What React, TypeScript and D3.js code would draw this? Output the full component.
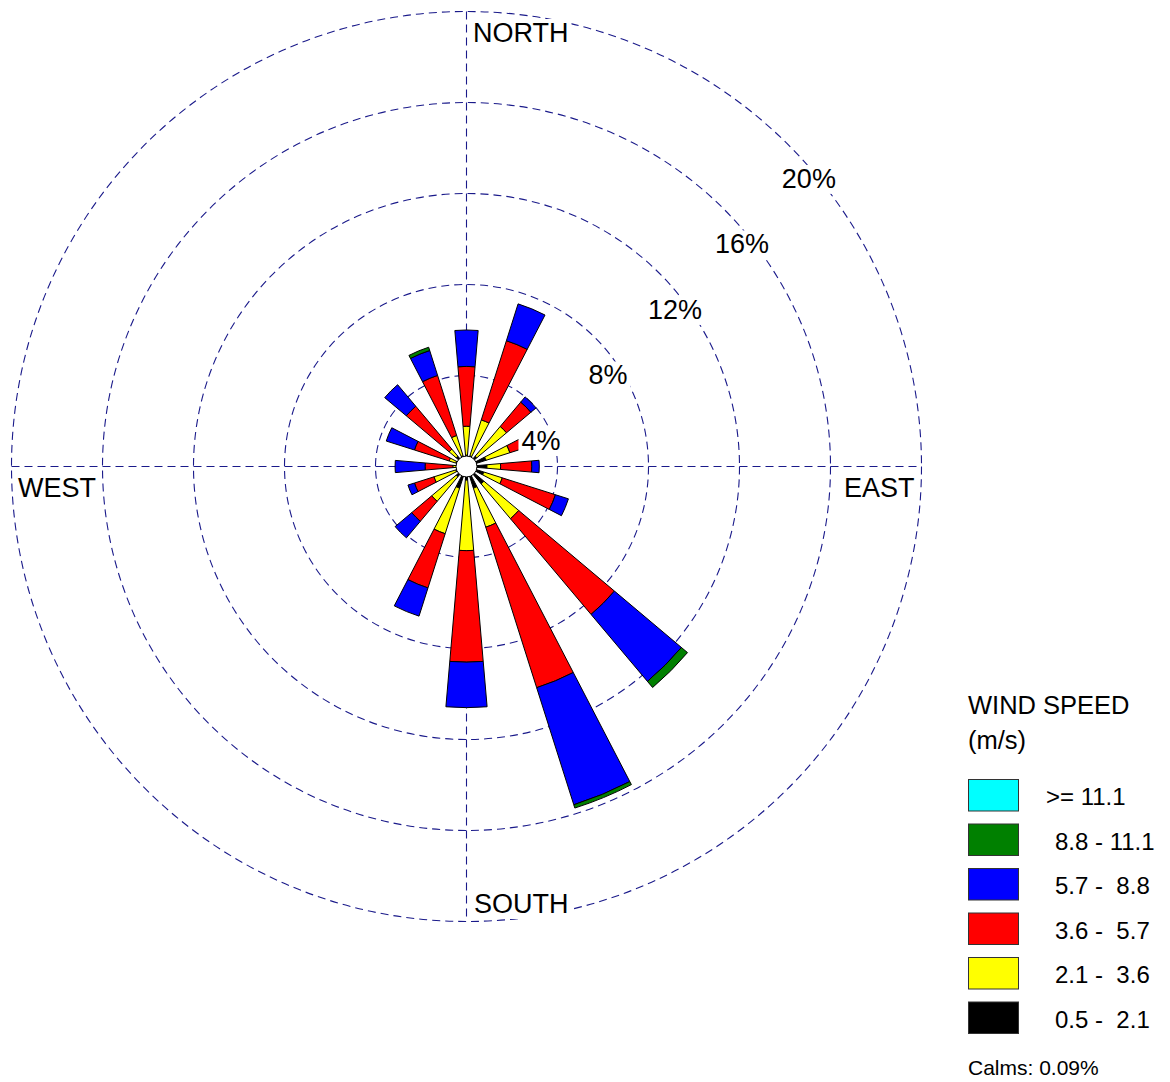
import React, { useRef, useEffect } from 'react';
import * as d3 from 'd3';

// 16 compass sectors, clockwise from north
const directions = ['N', 'NNE', 'NE', 'ENE', 'E', 'ESE', 'SE', 'SSE', 'S', 'SSW', 'SW', 'WSW', 'W', 'WNW', 'NW', 'NNW'];

// frequency (%) of each speed class per direction
const speed05to21 = [0.5, 0.5, 0.6, 0.9, 0.9, 0.8, 1.0, 1.0, 0.6, 1.0, 0.6, 0.5, 0.4, 0.5, 0.6, 0.5];
const speed21to36 = [1.27, 1.65, 1.7, 1.1, 0.6, 0.85, 2.0, 1.8, 3.1, 2.1, 1.4, 1.0, 0.2, 0.3, 0.4, 0.93];
const speed36to57 = [2.63, 3.65, 1.4, 0.9, 1.37, 2.45, 5.5, 7.4, 4.9, 2.5, 1.15, 0.9, 1.22, 1.6, 2.46, 2.77];
const speed57to88 = [1.6, 1.7, 0.3, 0, 0.33, 0.6, 3.85, 5.4, 2.0, 1.3, 0.95, 0.3, 1.32, 1.3, 1.24, 1.15];
const speed88to111 = [0, 0, 0, 0, 0, 0, 0.35, 0.15, 0, 0, 0, 0, 0, 0, 0, 0.15];
const speed111up = [0, 0, 0, 0, 0, 0, 0, 0, 0, 0, 0, 0, 0, 0, 0, 0];

const binKeys = ['b1', 'b2', 'b3', 'b4', 'b5', 'b6'];
const binColors = ['#000000', '#ffff00', '#ff0000', '#0000ff', '#008000', '#00ffff'];
const binLabels = ['0.5 -  2.1', '2.1 -  3.6', '3.6 -  5.7', '5.7 -  8.8', '8.8 - 11.1', '>= 11.1'];

const ringTicks = [4, 8, 12, 16, 20];
const compassLabels = ['NORTH', 'EAST', 'SOUTH', 'WEST'];
const calms = '0.09%';

const App = () => {
  const chart = useRef<SVGSVGElement>(null);

  useEffect(() => {
    const svg = d3.select(chart.current);
    svg.selectAll('*').remove();

    const font = "Arial, 'Liberation Sans', sans-serif";
    const cx = 466.5, cy = 466.5;
    const r = d3.scaleLinear().domain([0, 20]).range([0, 455]);
    const ringColor = '#1a1a8a';
    const dash = '8,5';

    const rows = directions.map((d, i) => ({
      dir: d,
      b1: speed05to21[i], b2: speed21to36[i], b3: speed36to57[i],
      b4: speed57to88[i], b5: speed88to111[i], b6: speed111up[i]
    }));
    const stacked = d3.stack<any>().keys(binKeys)(rows);

    const angle = d3.scaleBand().domain(directions).range([0, 2 * Math.PI]);
    const half = (9.8 / 2) * Math.PI / 180;

    const g = svg.append('g').attr('transform', 'translate(' + cx + ',' + cy + ')');

    // grid rings
    g.selectAll('circle.ring')
      .data(ringTicks)
      .enter().append('circle')
      .attr('class', 'ring')
      .attr('r', d => r(d))
      .attr('fill', 'none')
      .attr('stroke', ringColor)
      .attr('stroke-width', 1.1)
      .attr('stroke-dasharray', dash);

    // cross axes
    const rm = r(20);
    g.append('line').attr('x1', 0).attr('x2', 0).attr('y1', -rm).attr('y2', rm)
      .attr('stroke', ringColor).attr('stroke-width', 1.1).attr('stroke-dasharray', dash);
    g.append('line').attr('x1', -rm).attr('x2', rm).attr('y1', 0).attr('y2', 0)
      .attr('stroke', ringColor).attr('stroke-width', 1.1).attr('stroke-dasharray', dash);

    // petals
    const arc = d3.arc<any>()
      .innerRadius(d => r(d[0]))
      .outerRadius(d => r(d[1]))
      .startAngle(d => angle(d.data.dir)! - half)
      .endAngle(d => angle(d.data.dir)! + half);

    stacked.forEach((layer, li) => {
      g.append('g')
        .selectAll('path')
        .data(layer.filter(d => d[1] - d[0] > 0))
        .enter().append('path')
        .attr('d', arc)
        .attr('fill', binColors[li])
        .attr('stroke', '#000')
        .attr('stroke-width', 1)
        .attr('stroke-linejoin', 'round');
    });

    // calm circle
    g.append('circle').attr('r', 10.5).attr('fill', '#fff').attr('stroke', '#000').attr('stroke-width', 1);

    const withBox = (sel: any) => {
      sel.each(function (this: SVGTextElement) {
        const bb = this.getBBox();
        d3.select(this.parentNode as any).insert('rect', () => this)
          .attr('x', bb.x - 3).attr('y', bb.y + 1)
          .attr('width', bb.width + 6).attr('height', bb.height - 1)
          .attr('fill', '#fff');
      });
    };

    // percent labels
    const pl = svg.append('g');
    ringTicks.forEach(t => {
      const lg = pl.append('g');
      lg.append('text')
        .attr('x', cx + 7.5 + 0.736 * r(t))
        .attr('y', cy + 49 - 0.72 * r(t))
        .attr('text-anchor', 'middle')
        .attr('font-family', font)
        .attr('font-size', 27)
        .text(t + '%')
        .call(withBox);
    });

    // compass labels
    const compassPos: Record<string, [number, number]> = {
      NORTH: [cx + 6.5, 42],
      EAST: [844, 497],
      SOUTH: [cx + 7.5, 913],
      WEST: [18, 497]
    };
    compassLabels.forEach(l => {
      const lg = svg.append('g');
      lg.append('text')
        .attr('x', compassPos[l][0])
        .attr('y', compassPos[l][1])
        .attr('font-family', font)
        .attr('font-size', 27)
        .text(l)
        .call(withBox);
    });

    // legend
    const leg = svg.append('g').attr('font-family', font);
    leg.append('text').attr('x', 968).attr('y', 714).attr('font-size', 25.5).text('WIND SPEED');
    leg.append('text').attr('x', 968).attr('y', 749).attr('font-size', 25.5).text('(m/s)');

    const order = d3.range(binKeys.length).reverse();
    order.forEach((bi, i) => {
      const y = 779 + i * 44.5;
      leg.append('rect')
        .attr('x', 968.5).attr('y', y + 0.5)
        .attr('width', 50).attr('height', 31.5)
        .attr('fill', binColors[bi])
        .attr('stroke', '#333').attr('stroke-width', 1);
      leg.append('text')
        .attr('x', i === 0 ? 1046 : 1055)
        .attr('y', y + 26)
        .attr('font-size', 24)
        .style('white-space', 'pre')
        .text(binLabels[bi]);
    });

    leg.append('text').attr('x', 968).attr('y', 1075).attr('font-size', 21).text('Calms: ' + calms);
  }, []);

  return (
    <div style={{ position: 'absolute', left: 0, top: 0 }}>
      <svg ref={chart} width={1170} height={1082} style={{ display: 'block', background: '#fff' }}></svg>
    </div>
  );
};

export default App;
